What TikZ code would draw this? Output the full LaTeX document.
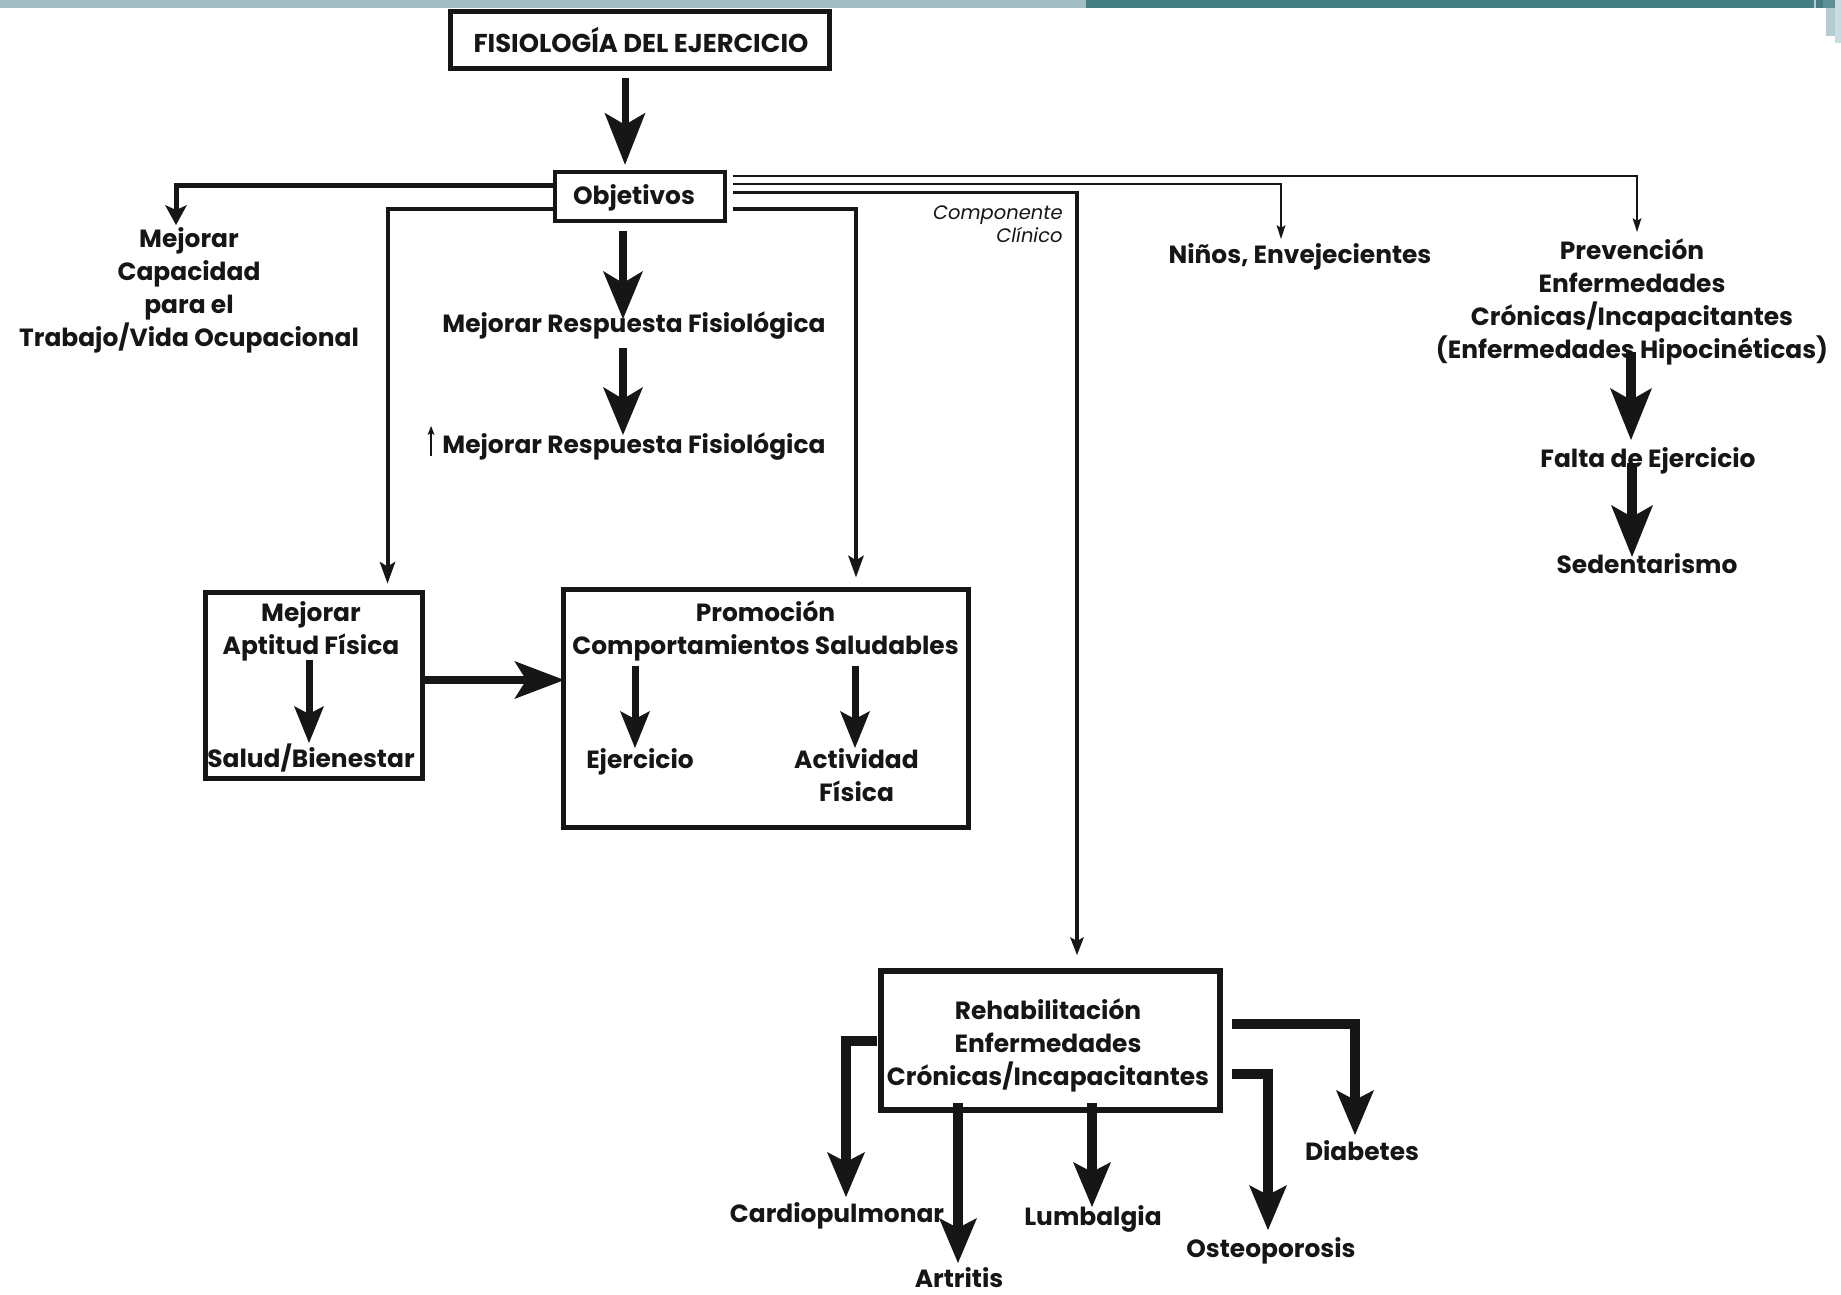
\documentclass[tikz,border=0pt]{standalone}
\usepackage{fontspec}
\setmainfont{Poppins}
\usetikzlibrary{arrows.meta,calc}

\definecolor{ink}{HTML}{161616}
\definecolor{bannerlight}{HTML}{A3BFC4}
\definecolor{bannerdark}{HTML}{457E82}
\definecolor{bannermid}{HTML}{5E9095}
\definecolor{bannerpale}{HTML}{B2CCD0}
\definecolor{bannerpaler}{HTML}{C9DDE0}

% centred / right-aligned stacks whose baseline is the first line
\newcommand\stackc[1]{\begin{tabular}[t]{@{}c@{}}#1\end{tabular}}
\newcommand\stackr[1]{\begin{tabular}[t]{@{}r@{}}#1\end{tabular}}

\begin{document}
\begin{tikzpicture}[x=0.5pt,y=-0.5pt,
  lbl/.style={font=\fontsize{12.45}{16.5}\selectfont\bfseries, text=ink, inner sep=0pt, anchor=base},
  frame/.style 2 args={draw=ink, inner sep=0pt, minimum width=#1, minimum height=#2},
  thickA/.style={draw=ink, line width=3.5pt, -{Stealth[length=26pt, width=20.5pt, inset=6pt, line width=0pt]}},
  thickB/.style={draw=ink, line width=4pt, -{Stealth[length=24pt, width=20pt, inset=6pt, line width=0pt]}},
  prevarr/.style={draw=ink, line width=5pt, -{Stealth[length=26pt, width=21pt, inset=6pt, line width=0pt]}},
  rehabarr/.style={draw=ink, line width=5pt, -{Stealth[length=22.5pt, width=19pt, inset=5pt, line width=0pt]}},
  innerarr/.style={draw=ink, line width=3.5pt, -{Stealth[length=18.5pt, width=15pt, inset=4pt, line width=0pt]}},
  sidearr/.style={draw=ink, line width=4pt, -{Stealth[length=25pt, width=19pt, inset=6pt, line width=0pt]}},
  linkE/.style={draw=ink, line width=2.5pt, -{Stealth[length=10pt, width=11pt, inset=2.5pt, line width=0pt]}},
  linkD/.style={draw=ink, line width=2pt, -{Stealth[length=11pt, width=8pt, inset=2.5pt, line width=0pt]}},
  linkC/.style={draw=ink, line width=1.75pt, -{Stealth[length=9pt, width=7pt, inset=2pt, line width=0pt]}},
  linkB/.style={draw=ink, line width=1pt, -{Stealth[length=7pt, width=4.5pt, inset=1.5pt, line width=0pt]}},
  uparr/.style={draw=ink, line width=0.75pt, -{Stealth[length=4.5pt, width=3.5pt, inset=1pt, line width=0pt]}},
]
% page and banner
\fill[white] (0,0) rectangle (1841,1295);
\useasboundingbox (0,0) rectangle (1841,1295);
\fill[bannerlight] (0,0) rectangle (1086,8);
\fill[bannerdark] (1086,0) rectangle (1814,8);
\fill[bannerpale] (1814,0) rectangle (1816,8);
\fill[bannerdark] (1816,0) rectangle (1823,8);
\fill[bannermid] (1823,0) rectangle (1835,8);
\fill[bannerpale] (1826,8) rectangle (1835,36);
\fill[bannerpaler] (1835,0) rectangle (1841,43);

% frames
\node[frame={189.5pt}{28.5pt}, line width=2.5pt] (fis) at (640,40) {};
\node[frame={85pt}{24.5pt}, line width=2.25pt] (obj) at (640,196.5) {};
\node[frame={108.5pt}{93pt}, line width=2.5pt] (apt) at (314,685.5) {};
\node[frame={202.5pt}{119pt}, line width=2.75pt] (prom) at (766,708.5) {};
\node[frame={169.5pt}{69.5pt}, line width=3pt] (rehab) at (1050.5,1040.5) {};

% texts
\node[lbl, font=\fontsize{12.9}{16.5}\selectfont\bfseries] (fisT) at (641,53) {FISIOLOGÍA DEL EJERCICIO};
\node[lbl] (objT) at (634,204) {Objetivos};
\node[lbl] (cap) at (189,247) {\stackc{Mejorar\\Capacidad\\para el\\Trabajo/Vida Ocupacional}};
\node[lbl] (resp1) at (634,332) {Mejorar Respuesta Fisiológica};
\node[lbl] (resp2) at (634,453) {Mejorar Respuesta Fisiológica};
\node[lbl] (aptT) at (311,621) {\stackc{Mejorar\\Aptitud Física}};
\node[lbl] (salud) at (311,767) {Salud/Bienestar};
\node[lbl] (promT) at (765.5,621) {\stackc{Promoción\\Comportamientos Saludables}};
\node[lbl] (ejer) at (640,768) {Ejercicio};
\node[lbl] (activ) at (856.5,768) {\stackc{Actividad\\Física}};
\node[lbl, font=\fontsize{9.75}{11.5}\selectfont\itshape, anchor=base east] (comp) at (1063,219) {\stackr{Componente\\Clínico}};
\node[lbl] (ninos) at (1300,263) {Niños, Envejecientes};
\node[lbl] (prev) at (1632,259) {\stackc{Prevención\\Enfermedades\\Crónicas/Incapacitantes\\(Enfermedades Hipocinéticas)}};
\node[lbl] (falta) at (1648,467) {Falta de Ejercicio};
\node[lbl] (sed) at (1647,573) {Sedentarismo};
\node[lbl] (rehabT) at (1048,1019) {\stackc{Rehabilitación\\Enfermedades\\Crónicas/Incapacitantes}};
\node[lbl] (cardio) at (837,1222) {Cardiopulmonar};
\node[lbl] (artr) at (959,1287) {Artritis};
\node[lbl] (lumb) at (1093,1225) {Lumbalgia};
\node[lbl] (osteo) at (1271,1257) {Osteoporosis};
\node[lbl] (diab) at (1362,1160) {Diabetes};

% main column
\draw[thickA] ($(fis.south)+(-15,7.5)$) -- ($(obj.north)+(-15,-5)$);
\draw[thickB] ($(obj.south)+(-17,8)$) -- ($(resp1.base)+(-11,-13)$);
\draw[thickB] ($(resp1.base)+(-11,16)$) -- ($(resp2.base)+(-11,-18)$);
\draw[uparr] ($(resp2.base west)+(-11,3)$) -- ($(resp2.base west)+(-11,-27)$);

% branches leaving Objetivos
\draw[linkE] ($(obj.west)+(0,-11.5)$) -| ($(cap.base)+(-13,-22)$);
\draw[linkD] ($(obj.west)+(0,12.5)$) -| ($(apt.north)+(73.5,-6.5)$);
\draw[linkD] ($(obj.east)+(6,12.5)$) -| ($(prom.north)+(90,-9.5)$);
\draw[linkC] ($(obj.east)+(6,-4)$) -| ($(rehab.north)+(26.5,-13)$);
\draw[linkB] ($(obj.east)+(6,-12.5)$) -| ($(ninos.base)+(-19,-24)$);
\draw[linkB] ($(obj.east)+(6,-20.5)$) -| ($(prev.base)+(5,-27)$);

% inside the two middle frames
\draw[innerarr] ($(aptT.base)+(-2,39)$) -- ($(salud.base)+(-2,-24)$);
\draw[sidearr] ($(apt.east)+(-5.5,-5.5)$) -- ($(prom.west)+(3.5,-28.5)$);
\draw[innerarr] ($(promT.base)+(-130.5,45)$) -- ($(ejer.base)+(-5,-20)$);
\draw[innerarr] ($(promT.base)+(89.5,45)$) -- ($(activ.base)+(-1.5,-20)$);

% prevention chain
\draw[prevarr] ($(prev.base)+(-1,93)$) -- ($(falta.base)+(-17,-27)$);
\draw[prevarr] ($(falta.base)+(-16,-4)$) -- ($(sed.base)+(-15,-16)$);

% rehabilitation outcomes
\draw[rehabarr] ($(rehab.west)+(-1,0.5)$) -| ($(cardio.base)+(9,-25)$);
\draw[rehabarr] ($(rehab.south)+(-92.5,-10)$) -- ($(artr.base)+(-1,-24)$);
\draw[rehabarr] ($(rehab.south)+(41.5,-10)$) -- ($(lumb.base)+(-1,-18)$);
\draw[rehabarr] ($(rehab.east)+(9,33.5)$) -| ($(osteo.base)+(-3,-27)$);
\draw[rehabarr] ($(rehab.east)+(9,-16.5)$) -| ($(diab.base)+(-7,-25)$);
\end{tikzpicture}
\end{document}
